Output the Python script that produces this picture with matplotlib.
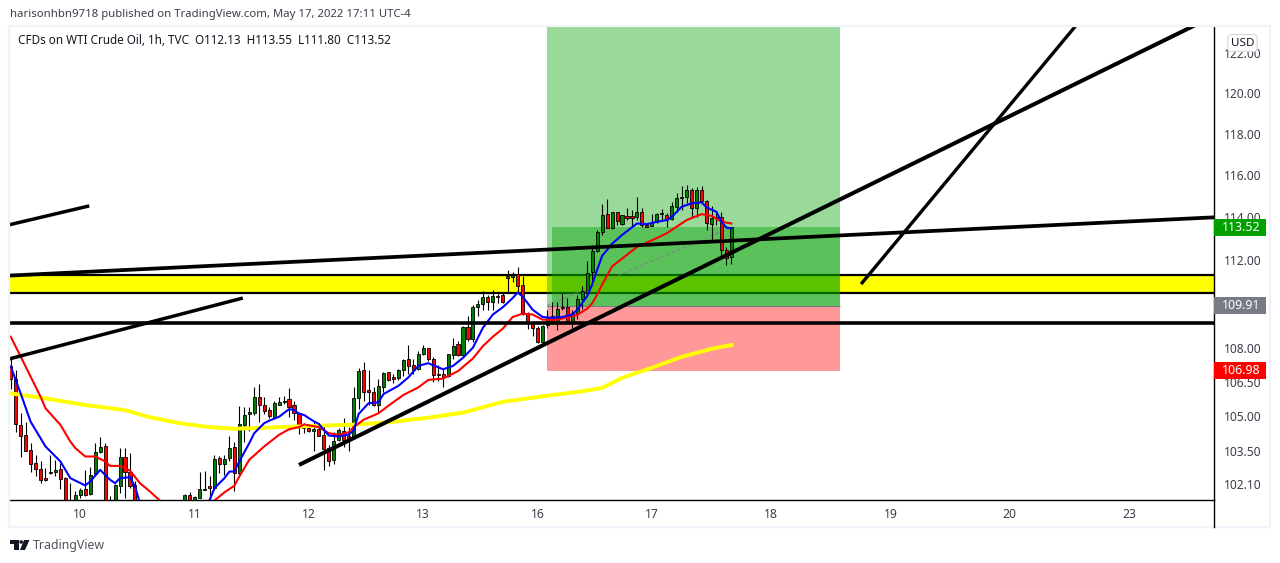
import numpy as np
from matplotlib import pyplot as plt
from matplotlib.patches import Rectangle, Polygon, Circle
from matplotlib.lines import Line2D
from matplotlib.transforms import IdentityTransform
from matplotlib.ticker import FixedLocator, FixedFormatter, NullLocator

nan = np.nan

# hourly candles (nan = below the visible pane)
opens = [107.2, 106.61, 104.6, 104.17, 103.53, 102.97, 102.72, 102.35, 102.59, 102.59,
         102.73, 102.34, 101.0, 101.3, 101.61, 101.89, 101.67, 102.51, 103.47, 103.72,
         100.9, 101.0, 102.0, 103.26, 102.6, 102.06, nan, nan, nan, nan,
         nan, nan, nan, nan, nan, 101.0, 101.64, 101.0, 101.52, 101.85,
         101.99, 101.92, 103.2, 102.95, 103.19, 103.66, 102.55, 104.62, 105.07, 105.15,
         105.85, 105.47, 105.25, 104.97, 105.5, 105.6, 105.73, 105.46, 105.12, 104.59,
         104.49, 104.35, 104.45, 104.19, 103.64, 103.1, 103.95, 104.35, 104.12, 104.05,
         105.8, 107.01, 106.12, 106.07, 105.5, 106.28, 106.91, 106.69, 106.66, 107.03,
         107.49, 107.22, 107.08, 107.71, 108.01, 107.52, 106.86, 106.86, 106.76, 107.68,
         108.16, 107.68, 108.95, 108.42, 109.83, 110.0, 110.3, 110.09, 110.33, 110.4,
         111.15, 111.23, 111.34, 110.83, 109.57, 109.09, 108.9, 108.26, 109.05, 109.42,
         109.12, 109.79, 109.82, 109.21, 109.57, 110.22, 110.46, 111.43, 112.42, 113.31,
         114.17, 113.47, 114.22, 113.67, 114.06, 114.03, 114.01, 114.22, 113.64, 113.6,
         113.75, 114.14, 114.12, 113.89, 114.49, 114.9, 114.94, 115.28, 114.41, 115.28,
         114.78, 113.67, 113.98, 114.02, 112.47, 112.13]
highs = [107.5, 107.0, 105.15, 104.76, 103.83, 103.33, 103.05, 102.76, 103.33, 103.12,
         102.97, 102.4, 102.13, 101.78, 101.92, 102.69, 102.83, 103.83, 104.11, 103.83,
         101.6, 102.1, 103.62, 103.62, 103.4, 102.2, nan, nan, nan, nan,
         nan, nan, nan, nan, nan, 101.68, 101.75, 101.57, 102.6, 102.65,
         102.41, 103.33, 103.29, 103.33, 104.16, 103.9, 105.44, 105.41, 105.41, 106.29,
         106.39, 105.85, 105.41, 105.66, 105.85, 105.88, 106.21, 105.66, 105.19, 104.7,
         104.52, 104.73, 104.69, 104.59, 103.74, 104.3, 104.48, 104.9, 104.52, 106.25,
         107.12, 107.36, 107.01, 106.25, 106.62, 106.94, 106.94, 106.84, 107.06, 107.49,
         108.11, 107.49, 107.86, 108.11, 108.01, 107.61, 107.22, 107.06, 107.74, 108.45,
         108.3, 109.0, 109.45, 109.95, 110.17, 110.55, 110.4, 110.62, 110.42, 110.47,
         111.54, 111.46, 111.66, 111.28, 109.6, 109.15, 108.97, 109.03, 109.72, 110.06,
         110.09, 110.47, 110.24, 109.72, 110.4, 110.82, 111.93, 112.7, 113.39, 114.6,
         114.85, 114.25, 114.25, 114.12, 114.41, 114.33, 114.93, 114.44, 113.7, 114.17,
         114.2, 114.36, 114.2, 114.73, 115.12, 115.47, 115.52, 115.36, 115.41, 115.47,
         114.81, 114.52, 114.25, 114.25, 112.6, 113.55]
lows = [106.2, 104.33, 103.23, 103.5, 102.62, 102.44, 102.13, 102.24, 102.51, 102.41,
        101.89, 100.8, 100.7, 101.22, 101.5, 101.57, 101.64, 102.48, 103.4, 100.8,
        100.7, 100.8, 101.71, 101.5, 101.92, 100.8, nan, nan, nan, nan,
        nan, nan, nan, nan, nan, 100.9, 100.9, 100.9, 101.5, 101.83,
        101.43, 101.85, 102.55, 102.48, 103.05, 101.78, 102.48, 103.86, 104.37, 105.05,
        104.76, 105.1, 104.9, 104.94, 105.46, 105.53, 104.94, 104.84, 104.21, 104.26,
        104.3, 103.48, 104.13, 102.68, 102.86, 102.93, 103.91, 103.67, 103.48, 104.02,
        105.31, 105.67, 105.5, 105.45, 105.13, 106.07, 106.54, 106.44, 106.58, 106.76,
        106.84, 106.84, 107.03, 107.67, 107.42, 106.49, 106.54, 106.28, 106.73, 107.49,
        107.64, 107.64, 108.3, 108.27, 109.45, 109.72, 109.69, 109.72, 110.02, 110.02,
        110.52, 111.0, 110.47, 109.49, 108.85, 108.55, 108.23, 108.23, 108.9, 109.09,
        108.82, 109.72, 109.12, 108.88, 109.3, 109.74, 110.42, 111.02, 112.39, 113.16,
        113.47, 113.42, 113.63, 113.63, 113.86, 113.58, 113.86, 113.52, 113.55, 113.58,
        113.7, 113.86, 113.55, 113.86, 114.25, 114.33, 114.65, 114.02, 114.02, 114.65,
        113.39, 112.93, 113.63, 112.09, 111.75, 111.8]
closes = [106.6, 104.65, 104.16, 103.5, 102.93, 102.72, 102.28, 102.27, 102.54, 102.69,
          102.32, 101.0, 100.9, 101.64, 101.85, 101.64, 102.48, 103.44, 103.66, 101.0,
          101.1, 102.03, 103.23, 102.58, 101.99, 101.0, nan, nan, nan, nan,
          nan, nan, nan, nan, nan, 101.64, 101.0, 101.54, 101.89, 101.87,
          101.92, 103.15, 102.95, 103.15, 103.62, 102.55, 104.65, 105.04, 105.18, 105.82,
          105.46, 105.24, 105.0, 105.55, 105.6, 105.67, 105.41, 105.12, 104.52, 104.5,
          104.35, 104.42, 104.16, 103.6, 103.06, 103.92, 104.39, 103.95, 104.02, 105.77,
          106.97, 106.07, 106.06, 105.48, 106.3, 106.88, 106.58, 106.64, 107.01, 107.45,
          107.2, 107.04, 107.71, 107.98, 107.49, 106.81, 106.8, 106.69, 107.71, 108.1,
          107.68, 108.92, 108.41, 109.84, 110.0, 110.29, 110.09, 110.35, 110.29, 110.05,
          111.28, 111.3, 110.78, 109.54, 109.15, 108.9, 108.26, 109.0, 109.39, 109.15,
          109.75, 109.82, 109.21, 109.57, 110.2, 110.57, 111.4, 112.42, 113.28, 114.12,
          113.51, 114.22, 113.83, 114.09, 113.98, 113.98, 114.22, 113.63, 113.55, 113.7,
          114.14, 114.2, 113.86, 114.52, 114.9, 114.97, 115.28, 114.41, 115.28, 114.78,
          113.7, 113.98, 114.02, 112.47, 112.09, 113.52]

# moving averages, read at a handful of bars
blue_bars = [0, 2, 4, 7, 10, 12, 15, 16, 18, 20, 21, 22, 24, 25, 26, 27, 33, 39, 40, 41, 43, 44, 45, 46, 48, 49,
             51, 52, 54, 56, 57, 58, 59, 61, 62, 64, 66, 68, 69, 70, 72, 74, 75, 78, 80, 82, 84, 87, 89, 91, 93,
             95, 97, 99, 101, 102, 103, 105, 107, 109, 111, 113, 114, 116, 117, 118, 119, 121, 123, 126, 128,
             130, 132, 133, 135, 137, 139, 140, 142, 143, 144, 145]
blue_vals = [107.18, 105.99, 104.76, 103.69, 103.05, 102.34, 102.03, 102.2, 102.69, 102.27, 102.13, 102.34, 102.38,
             101.99, 101.29, 100.7, nan, 100.9, 101.4, 101.92, 102.34, 102.62, 102.62, 103.05, 103.83, 104.26,
             104.69, 104.8, 104.97, 105.3, 105.27, 105.1, 105.05, 104.77, 104.66, 104.16, 104.12, 104.2, 104.37,
             105.09, 105.56, 105.6, 105.96, 106.32, 106.69, 107.2, 107.32, 107.05, 107.2, 107.56, 108.01,
             108.9, 109.5, 109.83, 110.25, 110.5, 110.32, 109.72, 109.39, 109.35, 109.39, 109.5, 109.72, 110.34,
             110.87, 111.55, 112.19, 112.75, 113.16, 113.7, 113.67, 113.78, 113.86, 114.01, 114.49, 114.65, 114.7,
             114.46, 114.25, 113.78, 113.51, 113.47]
red_bars = [0, 2, 4, 6, 7, 10, 12, 13, 15, 17, 19, 20, 22, 24, 26, 28, 30, 31, 36, 40, 41, 43, 45, 46, 48, 51, 54,
            56, 58, 59, 62, 64, 66, 68, 69, 71, 74, 76, 79, 82, 84, 87, 90, 93, 95, 97, 99, 101, 103, 105, 107,
            110, 114, 116, 117, 118, 119, 121, 124, 126, 129, 132, 134, 136, 139, 141, 143, 145]
red_vals = [108.5, 107.62, 106.73, 105.85, 105.34, 104.62, 103.9, 103.62, 103.26, 103.26, 103.05, 102.86, 102.86,
            102.66, 102.13, 101.78, 101.4, 100.9, nan, 100.9, 101.4, 101.74, 102.02, 102.41, 103.12, 103.69, 104.19,
            104.43, 104.52, 104.64, 104.52, 104.26, 104.19, 104.3, 104.52, 104.84, 105.12, 105.45, 105.92, 106.25,
            106.58, 106.64, 106.97, 107.53, 108.08, 108.5, 108.86, 109.39, 109.54, 109.5, 109.27, 109.27, 109.49,
            109.77, 110.01, 110.41, 110.87, 111.7, 112.24, 112.6, 112.91, 113.24, 113.55, 113.86, 114.14, 114.06,
            113.78, 113.7]
yellow_bars = [0, 7, 15, 23, 28, 34, 40, 45, 49, 58, 63, 69, 76, 84, 91, 99, 108, 115, 119, 123, 129, 135, 141, 145]
yellow_vals = [105.99, 105.77, 105.48, 105.26, 104.95, 104.69, 104.52, 104.45, 104.48, 104.55, 104.59, 104.63, 104.73,
               104.93, 105.15, 105.62, 105.89, 106.08, 106.23, 106.67, 107.12, 107.6, 107.96, 108.13]

# drawn lines as (bar, price) end points
trend_lines = [([-1, 15.8], [113.6, 114.53], 2.5),
               ([-1, 243], [111.27, 114.0], 2.7),
               ([-1, 243], [109.12, 109.12], 2.6),
               ([-1, 46.7], [107.47, 110.25], 2.5),
               ([58, 239], [102.9, 123.5], 2.9),
               ([171.1, 215], [110.89, 123.6], 2.4)]
band_low = 110.5
band_high = 111.31

# long position tool
pos_left = 107.9
pos_inner_left = 108.9
pos_right = 166.9
pos_stop = 106.98
pos_entry = 109.91
pos_now = 113.52
pos_target = 126.0

y_ticks = [122, 120, 118, 116, 114, 112, 108, 106.5, 105, 103.5, 102.1]
x_ticks = [14, 37, 60, 83, 106, 129, 153, 177, 201, 225]
x_labels = ['10', '11', '12', '13', '16', '17', '18', '19', '20', '23']
tags = [(113.52, '#00a000'), (109.91, '#787b86'), (106.98, '#ff0000')]

W, H = 1280, 563
FONT = 'Noto Sans'
TXT = '#131722'


def px(x, y):
    return x / W, 1 - y / H


fig = plt.figure(figsize=(W / 100, H / 100), dpi=100, facecolor='white')

# pane frame
fig.add_artist(Rectangle(px(9, 527), 1261 / W, 501 / H, transform=fig.transFigure, fill=False,
                         edgecolor='#f0f3fa', linewidth=1.6))

ax = fig.add_axes([10 / W, 1 - 500 / H, 1204 / W, 473 / H])
ax.set_yscale('log')
ax.set_xlim(-0.14, 242.1)
ax.set_ylim(101.42, 123.32)

# yellow band under the position tool
ax.axhspan(band_low, band_high, color='#ffff00', zorder=1, linewidth=0)
ax.axhline(band_low, color='black', linewidth=1.6, zorder=1.1)
ax.axhline(band_high, color='black', linewidth=1.6, zorder=1.1)

ax.add_patch(Rectangle((pos_left, pos_entry), pos_right - pos_left, pos_target - pos_entry,
                       facecolor='#00a000', alpha=0.4, linewidth=0, zorder=2))
ax.add_patch(Rectangle((pos_inner_left, pos_entry), pos_right - pos_inner_left, pos_now - pos_entry,
                       facecolor='#00a000', alpha=0.4, linewidth=0, zorder=2))
ax.add_patch(Rectangle((pos_left, pos_stop), pos_right - pos_left, pos_entry - pos_stop,
                       facecolor='#ff0000', alpha=0.4, linewidth=0, zorder=2))
ax.plot([pos_left, pos_right], [pos_entry, pos_entry], color='#787b86', linewidth=0.8, zorder=2.1,
        solid_capstyle='butt')
ax.plot([pos_left, 145], [pos_entry, pos_now], color='#787b86', linewidth=0.8, linestyle='--', alpha=0.7, zorder=2.1)

# candles
o = np.array(opens)
h = np.array(highs)
l = np.array(lows)
c = np.array(closes)
bars = np.arange(len(o))
ok = ~np.isnan(o)
up = c >= o
ax.vlines(bars[ok], l[ok], h[ok], color='black', linewidth=0.8, zorder=3)
body_low = np.minimum(o, c)
body_high = np.maximum(o, c)
ax.bar(bars[ok & up], (body_high - body_low)[ok & up], bottom=body_low[ok & up], width=0.62,
       color='#008000', edgecolor='black', linewidth=0.6, zorder=3.1)
ax.bar(bars[ok & ~up], (body_high - body_low)[ok & ~up], bottom=body_low[ok & ~up], width=0.62,
       color='#ff0000', edgecolor='black', linewidth=0.6, zorder=3.1)

# moving averages
ax.plot(yellow_bars, yellow_vals, color='#ffff00', linewidth=2.8, zorder=4)
ax.plot(red_bars, red_vals, color='#ff0000', linewidth=1.5, zorder=4.1)
ax.plot(blue_bars, blue_vals, color='#0000ff', linewidth=1.5, zorder=4.2)

# hand drawn lines
for xs, ys, lw in trend_lines:
    ax.plot(xs, ys, color='black', linewidth=lw, zorder=5, solid_capstyle='butt')

ax.set_xticks(x_ticks)
ax.set_xticklabels(x_labels, fontname=FONT, fontsize=8.8, color='#3a3e4a')
ax.yaxis.tick_right()
ax.yaxis.set_major_locator(FixedLocator(y_ticks))
ax.yaxis.set_major_formatter(FixedFormatter(['%.2f' % v for v in y_ticks]))
ax.yaxis.set_minor_locator(NullLocator())
ax.tick_params(axis='both', length=0)
ax.tick_params(axis='x', pad=6)
ax.tick_params(axis='y', pad=7, labelsize=8.6, labelcolor='#3a3e4a')
for t in ax.get_yticklabels():
    t.set_fontname(FONT)
for s in ['left', 'top']:
    ax.spines[s].set_visible(False)
ax.spines['bottom'].set_linewidth(1.0)
ax.spines['right'].set_linewidth(1.0)
fig.add_artist(Line2D([1214 / W, 1214 / W], [1 - 500 / H, 1 - 527 / H], color='black', linewidth=1.0))

# price tags on the axis, fixed size in pixels
for price, colour in tags:
    tag_y = ax.transData.transform((0, price))[1]
    fig.add_artist(Rectangle((1214, tag_y - 8.5), 52, 17, transform=IdentityTransform(), facecolor=colour,
                             edgecolor='none', zorder=10))
    fig.text(1241 / W, tag_y / H, '%.2f' % price, ha='center', va='center', color='white', fontname=FONT,
             fontsize=8.9, fontweight='bold', zorder=11)

fig.text(*px(1242.5, 43), 'USD', ha='center', va='center', fontname=FONT, fontsize=8.4, color=TXT,
         bbox=dict(boxstyle='round,pad=0.25', facecolor='white', edgecolor='#d6d8e0', linewidth=0.8), zorder=11)

fig.text(*px(10, 14.5), 'harisonhbn9718 published on TradingView.com, May 17, 2022 17:11 UTC-4', ha='left',
         va='center', fontname=FONT, fontsize=8.17, color='#3a3e4a')
fig.text(*px(18, 41), 'CFDs on WTI Crude Oil, 1h, TVC  O112.13  H113.55  L111.80  C113.52', ha='left',
         va='center', fontname=FONT, fontsize=8.43, color=TXT, zorder=11)

# logo
logo_t = [(10, 540), (18.5, 540), (18.5, 550), (14, 550), (14, 544), (10, 544)]
logo_v = [(24, 540), (29.5, 540), (25, 550), (20, 550)]
for shape in [logo_t, logo_v]:
    fig.add_artist(Polygon([px(x, y) for x, y in shape], closed=True, transform=fig.transFigure,
                           facecolor='#131722', edgecolor='none'))
fig.add_artist(Circle((21.2, H - 542), 1.8, transform=IdentityTransform(), facecolor='#131722', edgecolor='none'))
fig.text(*px(33, 545), 'TradingView', ha='left', va='center', fontname=FONT, fontsize=8.9, color='#50535e')

fig.savefig('out.png', dpi=100)
